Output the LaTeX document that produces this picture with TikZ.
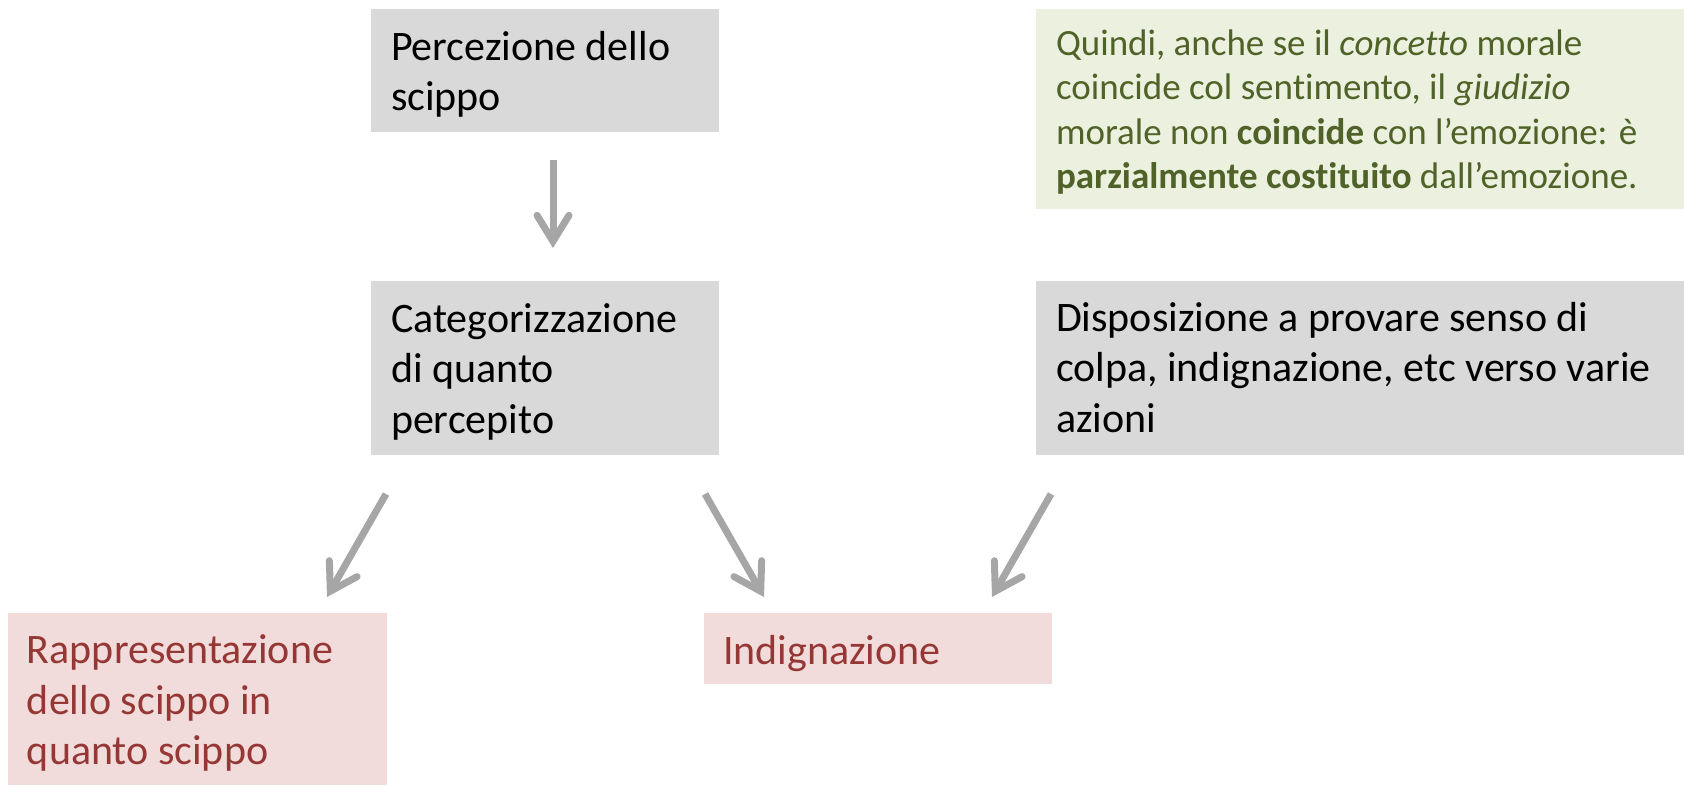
\documentclass[tikz,border=0pt]{standalone}
\usepackage{fontspec}
\setmainfont{Carlito}[Ligatures={NoCommon}]
\usetikzlibrary{arrows.meta}
\definecolor{boxgray}{HTML}{D9D9D9}
\definecolor{boxgreen}{HTML}{EBF1DE}
\definecolor{txtgreen}{HTML}{4F6228}
\definecolor{boxred}{HTML}{F2DCDB}
\definecolor{txtred}{HTML}{953735}
\definecolor{arrgray}{HTML}{A6A6A6}
\newcommand\firststrut{\rule{0pt}{34pt}}
\newcommand\firststrutsm{\rule{0pt}{30pt}}
\tikzset{
  boxbase/.style={anchor=north west, inner sep=0pt, outer sep=0pt, draw=none},
  graybox/.style={boxbase, fill=boxgray},
  greenbox/.style={boxbase, fill=boxgreen},
  redbox/.style={boxbase, fill=boxred},
  txt/.style={anchor=north west, inner sep=0pt, outer sep=0pt, align=left,
    font=\fontsize{42}{50.5}\selectfont},
  blacktxt/.style={txt, text=black},
  redtxt/.style={txt, text=txtred},
  greentxt/.style={anchor=north west, inner sep=0pt, outer sep=0pt, align=left,
    text=txtgreen, font=\fontsize{37}{44.5}\selectfont},
  arr/.style={draw=arrgray, line width=7pt,
    -{Straight Barb[length=26pt, width=32pt, line cap=round, line join=miter]}}
}
\begin{document}
\begin{tikzpicture}[x=1pt, y=-1pt]
\useasboundingbox (0,0) rectangle (1684,785);
% boxes
\node[graybox, minimum width=348pt, minimum height=123pt] (perc) at (371,9) {};
\node[graybox, minimum width=348pt, minimum height=174pt] (cat) at (371,281) {};
\node[greenbox, minimum width=648pt, minimum height=200pt] (note) at (1036,9) {};
\node[graybox, minimum width=648pt, minimum height=174pt] (disp) at (1036,281) {};
\node[redbox, minimum width=379pt, minimum height=172pt] (rapp) at (8,613) {};
\node[redbox, minimum width=348pt, minimum height=71pt] (indig) at (704,613) {};
% texts
\node[blacktxt] (perct) at (391,26) {\firststrut Percezione dello\\scippo};
\node[blacktxt] (catt) at (391,298) {\firststrut Categorizzazione\\di quanto\\percepito};
\node[blacktxt] (dispt) at (1056,297) {\firststrut Disposizione a provare senso di\\colpa, indignazione, etc verso varie\\azioni};
\node[redtxt] (rappt) at (27,629.5) {\firststrut Rappresentazione\\dello scippo in\\quanto scippo};
\node[redtxt] (indigt) at (723,630) {\firststrut Indignazione};
\node[greentxt] (notet) at (1056,25) {\firststrutsm Quindi, anche se il \textit{concetto} morale\\
coincide col sentimento, il \textit{giudizio}\\
morale non \textbf{coincide} con l’emozione: è\\
\textbf{parzialmente costituito} dall’emozione.};
% arrow end points
\coordinate (a1s) at (553,160);
\coordinate (a1e) at (553,248);
\coordinate (a2s) at (386,494);
\coordinate (a2e) at (327,597);
\coordinate (a3s) at (705,494);
\coordinate (a3e) at (764,597);
\coordinate (a4s) at (1051,494);
\coordinate (a4e) at (992,597);
\draw[arr] (a1s) -- (a1e);
\draw[arr] (a2s) -- (a2e);
\draw[arr] (a3s) -- (a3e);
\draw[arr] (a4s) -- (a4e);
\end{tikzpicture}
\end{document}
